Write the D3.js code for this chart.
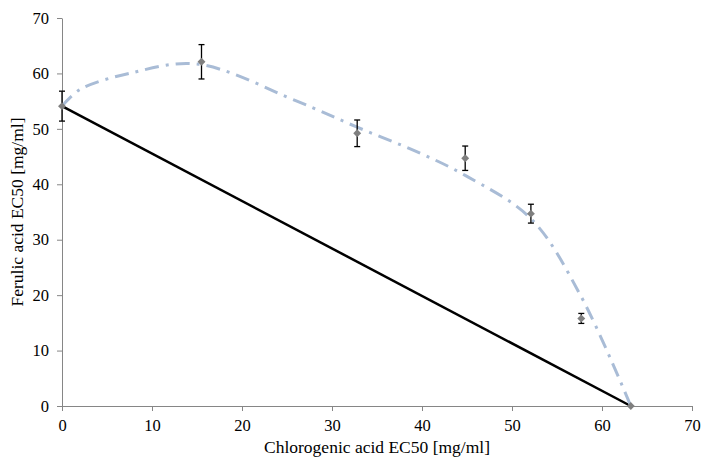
<!DOCTYPE html>
<html>
<head>
<meta charset="utf-8">
<script src="https://cdn.jsdelivr.net/npm/d3@7"></script>
<style>
  body { margin: 0; background: #fff; }
  svg { display: block; font-family: "Liberation Serif", "Times New Roman", serif; }
  .axis path, .axis line { stroke: #868686; }
  .axis text { font-size: 16.5px; fill: #000; font-family: "Liberation Serif", serif; }
</style>
</head>
<body>
<svg id="chart" width="704" height="460"></svg>
<script>
// measured points (chlorogenic acid EC50, ferulic acid EC50, error)
var chloroX = [0, 15.5, 32.8, 44.8, 52.1, 57.7, 63.2];
var ferulicY = [54.1, 62.1, 49.2, 44.7, 34.7, 15.8, 0];
var errY = [2.7, 3.1, 2.4, 2.2, 1.7, 0.9, 0];

// smoothed dash-dot curve
var curveX = [0, 2, 7.7, 15, 26.1, 32.8, 39.8, 44.8, 52.1, 57.6, 63.2];
var curveY = [54.1, 57.1, 60.1, 61.7, 55, 50.3, 45.6, 41.6, 33.8, 20, 0];

// additivity line
var lineX = [0, 63.2];
var lineY = [54.1, 0];

var ticks = [0, 10, 20, 30, 40, 50, 60, 70];

var svg = d3.select('#chart');
var x = d3.scaleLinear().domain([0, 70]).range([62, 692]);
var y = d3.scaleLinear().domain([0, 70]).range([406, 18]);

svg.append('g')
    .attr('class', 'axis')
    .attr('transform', 'translate(0,406)')
    .call(d3.axisBottom(x).tickValues(ticks).tickSize(5).tickPadding(8).tickSizeOuter(0))
    .call(function(g) { g.select('.domain').attr('d', 'M57,0.5H692'); });

svg.append('g')
    .attr('class', 'axis')
    .attr('transform', 'translate(62,0)')
    .call(d3.axisLeft(y).tickValues(ticks).tickSize(5).tickPadding(8).tickSizeOuter(0));

svg.append('text')
    .attr('x', x(35)).attr('y', 453)
    .attr('text-anchor', 'middle')
    .style('font-size', '17.5px')
    .text('Chlorogenic acid EC50 [mg/ml]');

svg.append('text')
    .attr('transform', 'translate(23,' + y(35) + ') rotate(-90)')
    .attr('text-anchor', 'middle')
    .style('font-size', '17.5px')
    .text('Ferulic acid EC50 [mg/ml]');

var line = d3.line()
    .x(function(d) { return x(d[0]); })
    .y(function(d) { return y(d[1]); });

svg.append('path')
    .datum(d3.zip(lineX, lineY))
    .attr('d', line)
    .attr('fill', 'none')
    .attr('stroke', '#000')
    .attr('stroke-width', 2.5);

svg.append('path')
    .datum(d3.zip(curveX, curveY))
    .attr('d', line.curve(d3.curveCatmullRom.alpha(0.5)))
    .attr('fill', 'none')
    .attr('stroke', '#a9bcd6')
    .attr('stroke-width', 3)
    .attr('stroke-dasharray', '14,7,3,7');

var pts = d3.zip(chloroX, ferulicY, errY);

var eb = svg.append('g').attr('stroke', '#000').attr('stroke-width', 1.3);
pts.filter(function(d) { return d[2] > 0; }).forEach(function(d) {
  var cx = x(d[0]);
  eb.append('line').attr('x1', cx).attr('x2', cx)
      .attr('y1', y(d[1] - d[2])).attr('y2', y(d[1] + d[2]));
  eb.append('line').attr('x1', cx - 3).attr('x2', cx + 3)
      .attr('y1', y(d[1] + d[2])).attr('y2', y(d[1] + d[2]));
  eb.append('line').attr('x1', cx - 3).attr('x2', cx + 3)
      .attr('y1', y(d[1] - d[2])).attr('y2', y(d[1] - d[2]));
});

svg.selectAll('.marker')
    .data(pts)
  .enter().append('path')
    .attr('class', 'marker')
    .attr('d', d3.symbol().type(d3.symbolDiamond2).size(40))
    .attr('transform', function(d) { return 'translate(' + x(d[0]) + ',' + y(d[1]) + ')'; })
    .attr('fill', '#7f7f7f');
</script>
</body>
</html>
